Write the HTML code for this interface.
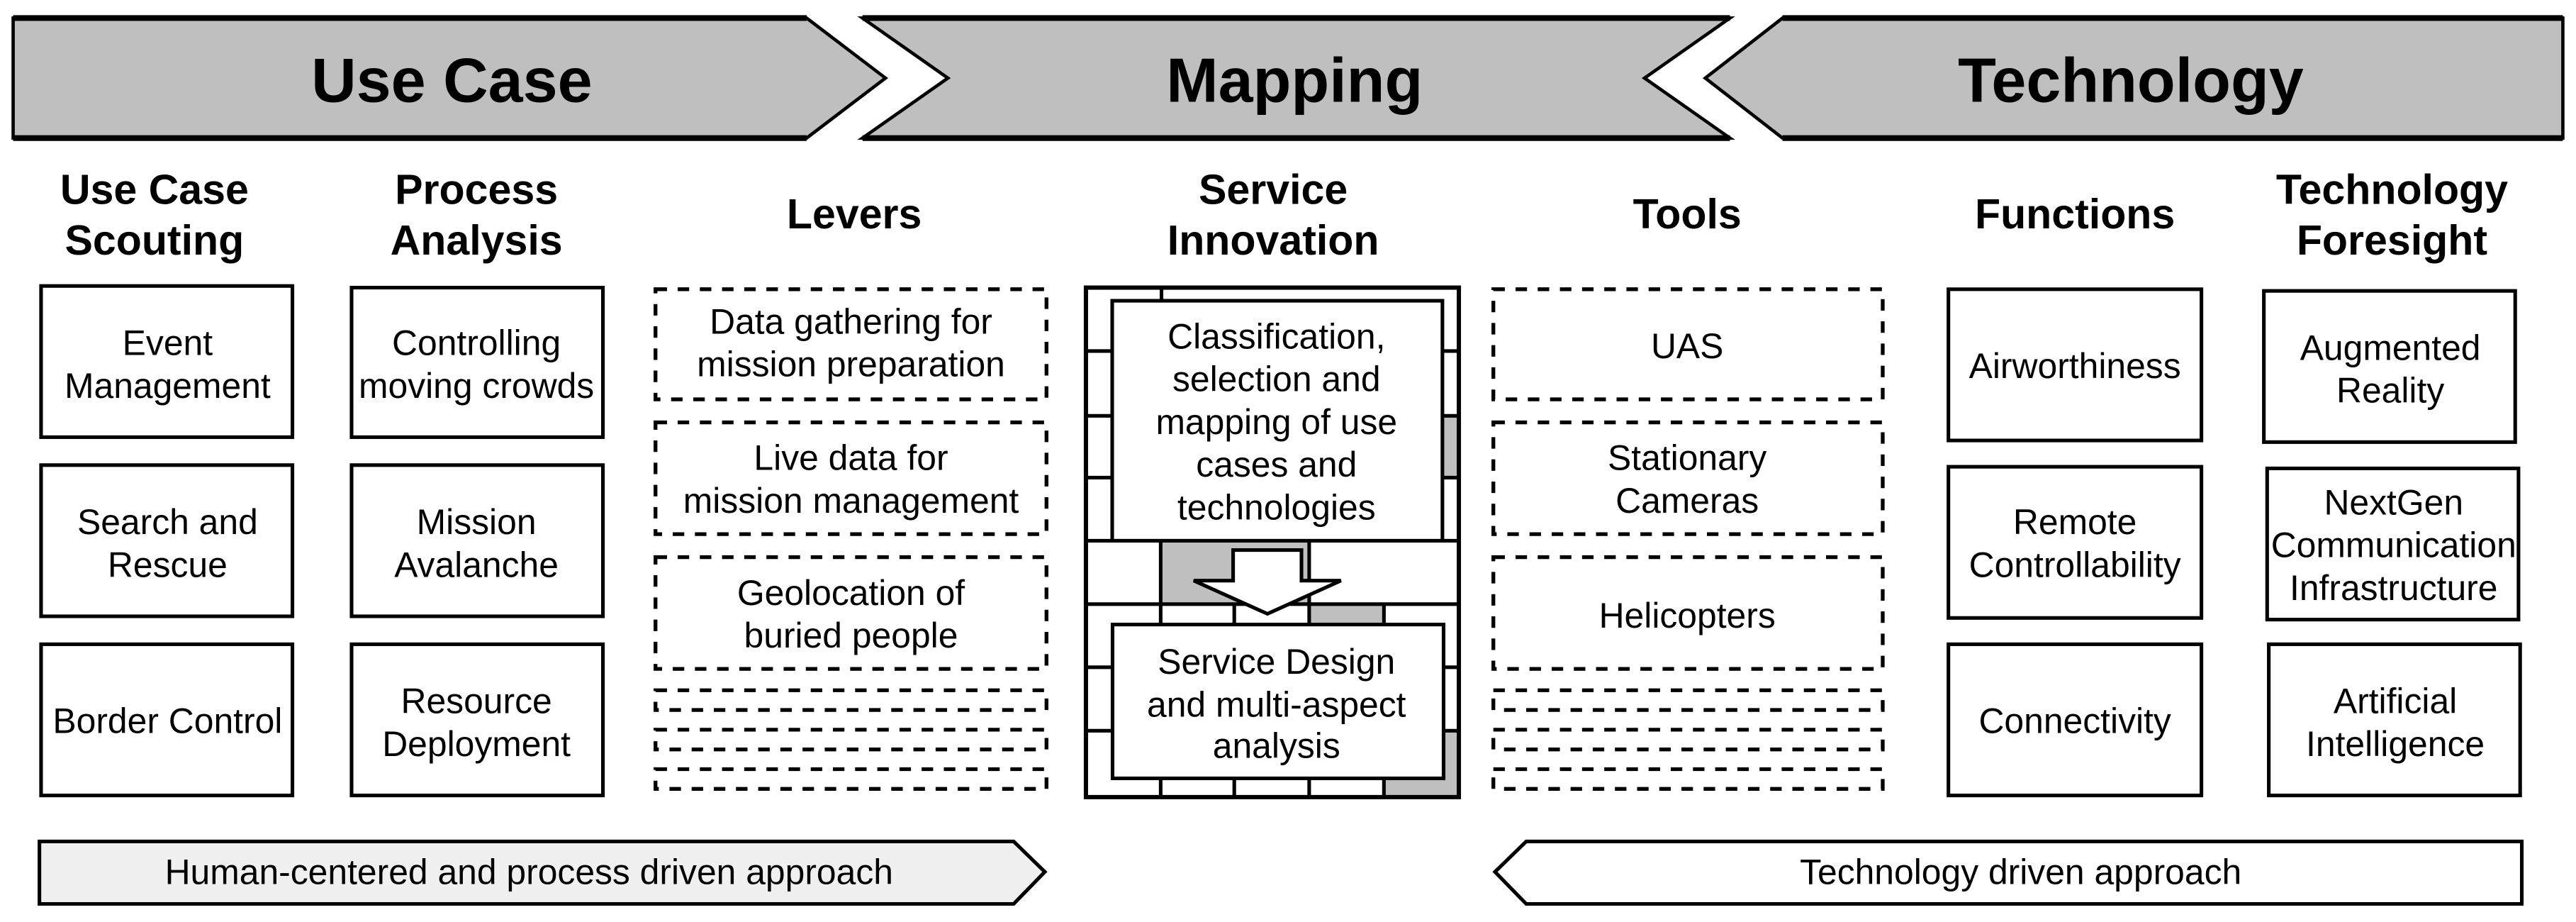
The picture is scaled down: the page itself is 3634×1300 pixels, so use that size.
<!DOCTYPE html>
<html><head><meta charset="utf-8"><style>
html,body{margin:0;padding:0;background:#fff;}
svg{display:block;}
text{font-family:"Liberation Sans",Arial,sans-serif;fill:#000;text-anchor:middle;}
.h{font-weight:bold;font-size:25.5px;}
.b{font-size:21.5px;}
.t{font-weight:bold;font-size:38px;}
</style></head><body>
<svg width="3634" height="1300" viewBox="0 0 1568 561" preserveAspectRatio="none" xmlns="http://www.w3.org/2000/svg">
<!-- banners -->
<g fill="#bfbfbf" stroke="#000" stroke-width="2" stroke-linejoin="miter">
<path d="M8,11 L491,11 L539,47.5 L491,84 L8,84 Z"/>
<path d="M525,11 L1053,11 L1001,47.5 L1053,84 L525,84 L577,47.5 Z"/>
<path d="M1085,11 L1560,11 L1560,84 L1085,84 L1038,47.5 Z"/>
</g>
<g fill="none" stroke="#000" stroke-width="3.5">
<line x1="8" y1="11" x2="491" y2="11"/><line x1="8" y1="84" x2="491" y2="84"/>
<line x1="525" y1="11" x2="1053" y2="11"/><line x1="525" y1="84" x2="1053" y2="84"/>
<line x1="1085" y1="11" x2="1560" y2="11"/><line x1="1085" y1="84" x2="1560" y2="84"/>
</g>
<text class="t" x="275" y="62">Use Case</text>
<text class="t" x="788" y="62">Mapping</text>
<text class="t" x="1297" y="62">Technology</text>

<!-- headers -->
<text class="h" x="94" y="124">Use Case</text><text class="h" x="94" y="155">Scouting</text>
<text class="h" x="290" y="124">Process</text><text class="h" x="290" y="155">Analysis</text>
<text class="h" x="520" y="139">Levers</text>
<text class="h" x="775" y="124">Service</text><text class="h" x="775" y="155">Innovation</text>
<text class="h" x="1027" y="139">Tools</text>
<text class="h" x="1263" y="139">Functions</text>
<text class="h" x="1456" y="124">Technology</text><text class="h" x="1456" y="155">Foresight</text>

<!-- solid boxes -->
<g fill="#fff" stroke="#000" stroke-width="2.2">
<rect x="25" y="174" width="153" height="92"/>
<rect x="25" y="283" width="153" height="92"/>
<rect x="25" y="392" width="153" height="92"/>
<rect x="214" y="175" width="153" height="91"/>
<rect x="214" y="283" width="153" height="92"/>
<rect x="214" y="392" width="153" height="92"/>
<rect x="1186" y="176" width="154" height="92"/>
<rect x="1186" y="284" width="154" height="92"/>
<rect x="1186" y="392" width="154" height="92"/>
<rect x="1378" y="177" width="153" height="92"/>
<rect x="1380" y="285" width="153" height="92"/>
<rect x="1381" y="392" width="153" height="92"/>
</g>
<text class="b" x="102" y="216">Event</text><text class="b" x="102" y="242">Management</text>
<text class="b" x="102" y="325">Search and</text><text class="b" x="102" y="351">Rescue</text>
<text class="b" x="102" y="446">Border Control</text>
<text class="b" x="290" y="216">Controlling</text><text class="b" x="290" y="242">moving crowds</text>
<text class="b" x="290" y="325">Mission</text><text class="b" x="290" y="351">Avalanche</text>
<text class="b" x="290" y="434">Resource</text><text class="b" x="290" y="460">Deployment</text>
<text class="b" x="1263" y="230">Airworthiness</text>
<text class="b" x="1263" y="325">Remote</text><text class="b" x="1263" y="351">Controllability</text>
<text class="b" x="1263" y="446">Connectivity</text>
<text class="b" x="1455" y="219">Augmented</text><text class="b" x="1455" y="245">Reality</text>
<text class="b" x="1457" y="313">NextGen</text><text class="b" x="1457" y="339">Communication</text><text class="b" x="1457" y="365">Infrastructure</text>
<text class="b" x="1458" y="434">Artificial</text><text class="b" x="1458" y="460">Intelligence</text>

<!-- dashed boxes -->
<g fill="none" stroke="#000" stroke-width="2.3" stroke-dasharray="7,6.5">
<rect x="399" y="176" width="238" height="67"/>
<rect x="399" y="257" width="238" height="68"/>
<rect x="399" y="339" width="238" height="68"/>
<rect x="399" y="420" width="238" height="12"/>
<rect x="399" y="444" width="238" height="12"/>
<rect x="399" y="468" width="238" height="12"/>
<rect x="909" y="176" width="237" height="67"/>
<rect x="909" y="257" width="237" height="68"/>
<rect x="909" y="339" width="237" height="68"/>
<rect x="909" y="420" width="237" height="12"/>
<rect x="909" y="444" width="237" height="12"/>
<rect x="909" y="468" width="237" height="12"/>
</g>
<text class="b" x="518" y="203">Data gathering for</text><text class="b" x="518" y="229">mission preparation</text>
<text class="b" x="518" y="286">Live data for</text><text class="b" x="518" y="312">mission management</text>
<text class="b" x="518" y="368">Geolocation of</text><text class="b" x="518" y="394">buried people</text>
<text class="b" x="1027" y="218">UAS</text>
<text class="b" x="1027" y="286">Stationary</text><text class="b" x="1027" y="312">Cameras</text>
<text class="b" x="1027" y="382">Helicopters</text>

<!-- service innovation brick block -->
<g stroke="none" fill="#bfbfbf">
<rect x="878" y="253" width="10" height="37.6"/>
<rect x="706.5" y="329" width="90.4" height="38.6"/>
<rect x="796.9" y="367.6" width="45.5" height="38.4"/>
<rect x="842.4" y="444.6" width="45.6" height="40.4"/>
</g>
<g fill="none" stroke="#000" stroke-width="2.2">
<rect x="661" y="175" width="227" height="310" stroke-width="2.6"/>
<line x1="661" y1="213.6" x2="888" y2="213.6"/>
<line x1="661" y1="253" x2="888" y2="253"/>
<line x1="661" y1="290.6" x2="888" y2="290.6"/>
<line x1="661" y1="329" x2="888" y2="329"/>
<line x1="661" y1="367.6" x2="888" y2="367.6"/>
<line x1="661" y1="406" x2="888" y2="406"/>
<line x1="661" y1="444.6" x2="888" y2="444.6"/>
<line x1="707" y1="175" x2="707" y2="213.6"/>
<line x1="706.5" y1="329" x2="706.5" y2="406"/>
<line x1="796.9" y1="329" x2="796.9" y2="406"/>
<line x1="751.3" y1="367.6" x2="751.3" y2="406"/>
<line x1="842.4" y1="367.6" x2="842.4" y2="406"/>
<line x1="706.5" y1="444.6" x2="706.5" y2="485"/>
<line x1="751.3" y1="444.6" x2="751.3" y2="485"/>
<line x1="796.9" y1="444.6" x2="796.9" y2="485"/>
<line x1="842.4" y1="444.6" x2="842.4" y2="485"/>
</g>
<g fill="#fff" stroke="#000" stroke-width="2.2">
<rect x="677" y="183" width="201" height="146"/>
<rect x="677.2" y="380" width="201.5" height="93.6"/>
<path d="M750.6,334.7 L792.2,334.7 L792.2,353.3 L816.2,353.3 L771.5,373.5 L726.6,353.3 L750.6,353.3 Z"/>
</g>
<text class="b" x="777" y="212">Classification,</text>
<text class="b" x="777" y="238">selection and</text>
<text class="b" x="777" y="264">mapping of use</text>
<text class="b" x="777" y="290">cases and</text>
<text class="b" x="777" y="316">technologies</text>
<text class="b" x="777" y="410">Service Design</text>
<text class="b" x="777" y="436">and multi-aspect</text>
<text class="b" x="777" y="461">analysis</text>

<!-- bottom arrows -->
<path d="M24,512 L617,512 L636,530.5 L617,550 L24,550 Z" fill="#f0f0f0" stroke="#000" stroke-width="2.2"/>
<path d="M929,512 L1535,512 L1535,550 L929,550 L910,530.5 Z" fill="#fff" stroke="#000" stroke-width="2.2"/>
<text class="b" x="322" y="538">Human-centered and process driven approach</text>
<text class="b" x="1230" y="538">Technology driven approach</text>
</svg>
</body></html>
